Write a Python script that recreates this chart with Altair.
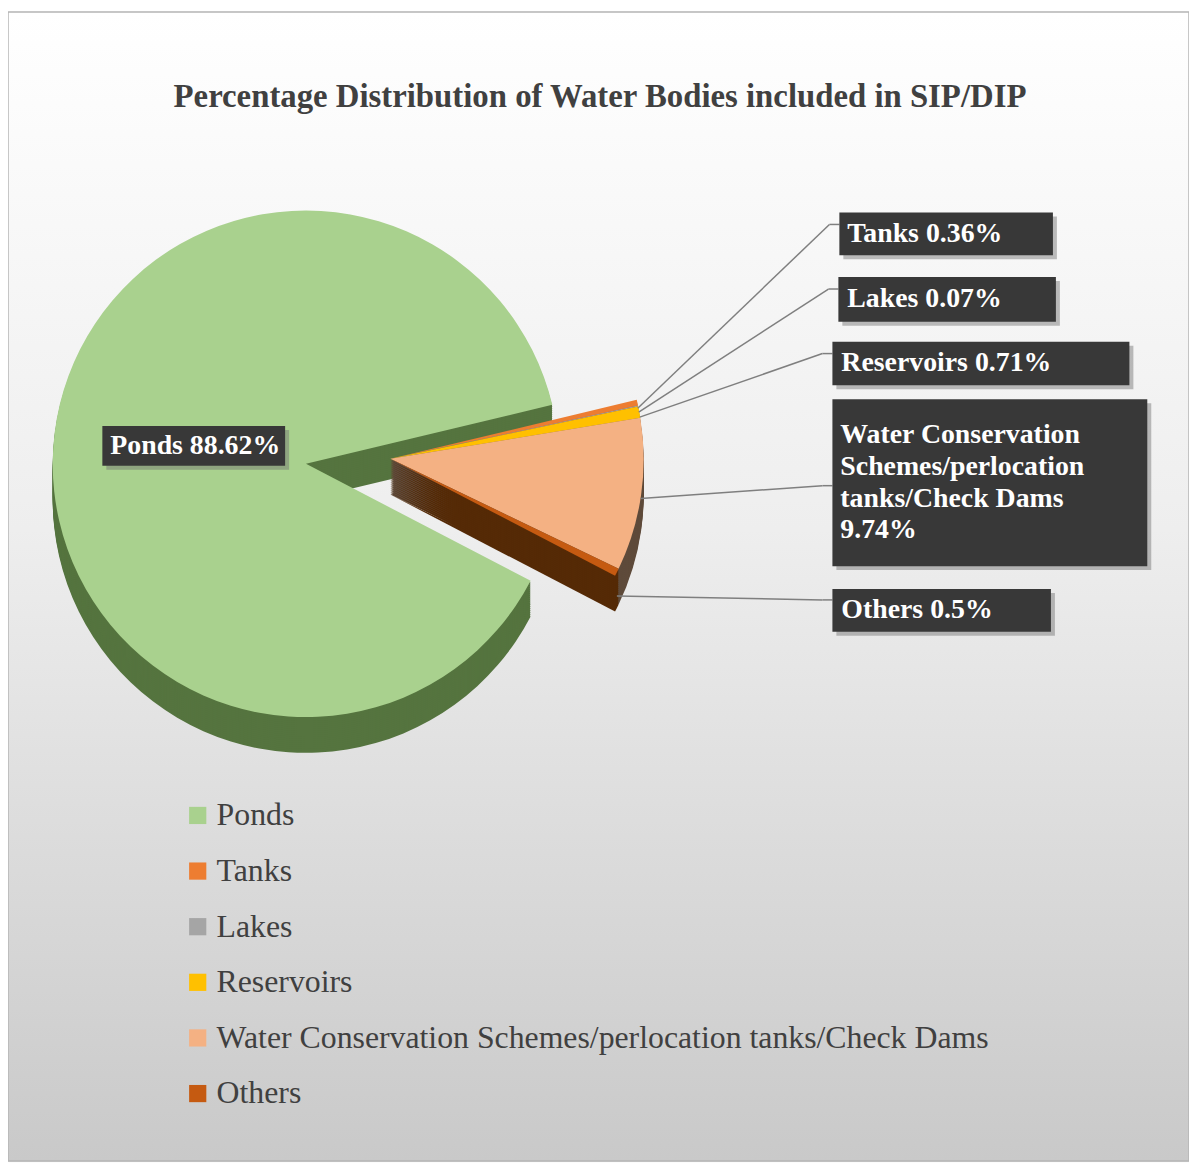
import math
import altair as alt
import pandas as pd

# ---------------- data ----------------
categories = ["Ponds", "Tanks", "Lakes", "Reservoirs",
              "Water Conservation Schemes/perlocation tanks/Check Dams", "Others"]
values = [88.62, 0.36, 0.07, 0.71, 9.74, 0.5]
label_texts = ["Ponds  88.62%", "Tanks  0.36%", "Lakes  0.07%", "Reservoirs 0.71%",
               "Water Conservation\nSchemes/perlocation\ntanks/Check Dams\n9.74%",
               "Others  0.5%"]
title_text = "Percentage Distribution of Water Bodies  included in SIP/DIP"

# ---------------- styles ----------------
top_colors = ["#A9D18E", "#ED7D31", "#A5A5A5", "#FFC000", "#F4B183", "#C55A11"]
side_colors = ["#55743F", "#A8561F", "#6E6E6E", "#A37C00", "#5F4B3B", "#552A06"]
FONT = "Liberation Serif"

W, H = 1189, 1157
CX, CY, R = 300, 455, 255          # pie centre / radius
DX, DY = 85, -5                    # explode offset of the small slices
DEPTH = 36                         # 3-D thickness
START = math.radians(117.5)        # rotation of first slice

# label box layout (chart pixel coords): box x, y, x2, y2, text x, text y
box_layout = [
    (95, 417, 279, 457, 103, 437),
    (837, 202, 1052, 245, 845, 224),
    (836, 267, 1055, 312, 845, 289),
    (830, 332, 1129, 376, 839, 354),
    (830, 390, 1147, 558, 838, 426),
    (830, 581, 1050, 624, 839, 602),
]
# leader line layout: start x, y, elbow x, y
leader_layout = [
    None,
    (634, 399, 827, 214),
    (635, 403, 826, 279),
    (636, 408, 820, 344),
    (637, 490, 820, 477),
    (613, 588, 820, 592),
]

pie_df = pd.DataFrame({
    "idx": list(range(len(categories))),
    "category": categories,
    "value": values,
    "side": side_colors,
})

theta_scale = alt.Scale(domain=[0, 100], range=[START, START + 2 * math.pi])
color_scale = alt.Scale(domain=categories, range=top_colors)


def pie_layer(filter_expr, cx, cy, top=True):
    base = (
        alt.Chart(pie_df)
        .transform_window(cum="sum(value)", sort=[{"field": "idx"}], frame=[None, 0])
        .transform_calculate(start="datum.cum - datum.value")
        .transform_filter(filter_expr)
        .mark_arc(radius=R, stroke=None)
    )
    enc = dict(
        theta=alt.Theta("start:Q", scale=theta_scale),
        theta2=alt.Theta2("cum:Q"),
        x=alt.value(cx),
        y=alt.value(cy),
    )
    if top:
        enc["color"] = alt.Color(
            "category:N", scale=color_scale, sort=categories,
            legend=alt.Legend(
                title=None, orient="none", legendX=175, legendY=793,
                symbolType="square", symbolSize=300, symbolStrokeWidth=0,
                labelFont=FONT, labelFontSize=32, labelColor="#404040",
                labelLimit=1200, rowPadding=24, labelOffset=3,
            ),
        )
    else:
        enc["color"] = alt.Color("side:N", scale=None)
    return base.encode(**enc)


# background with gradient
bg = alt.Chart(pd.DataFrame({"a": [0]})).mark_rect(
    fill=alt.Gradient(
        gradient="linear",
        stops=[alt.GradientStop(color="#ffffff", offset=0),
               alt.GradientStop(color="#eeeeee", offset=0.45),
               alt.GradientStop(color="#c9c9c9", offset=1)],
        x1=0.5, x2=0.5, y1=0, y2=1,
    ),
    stroke="#b5b5b5", strokeWidth=1.5,
).encode(x=alt.value(0), x2=alt.value(W), y=alt.value(0), y2=alt.value(H))

title = alt.Chart(pd.DataFrame({"t": [title_text]})).mark_text(
    font=FONT, fontSize=33, fontWeight="bold", color="#404040", align="center",
    baseline="middle",
).encode(text="t:N", x=alt.value(596), y=alt.value(86))

layers = [bg, title]
# 3-D sides: stacked shifted copies
for d in range(DEPTH, 0, -2):
    layers.append(pie_layer("datum.idx == 0", CX, CY + d, top=False))
    layers.append(pie_layer("datum.idx > 0", CX + DX, CY + DY + d, top=False))
# top faces
layers.append(pie_layer("datum.idx == 0", CX, CY, top=True))
layers.append(pie_layer("datum.idx > 0", CX + DX, CY + DY, top=True))

# labels
lab_rows = []
for i, cat in enumerate(categories):
    bx, by, bx2, by2, tx, ty = box_layout[i]
    row = dict(category=cat, text=label_texts[i], bx=bx, by=by, bx2=bx2, by2=by2,
               tx=tx, ty=ty)
    if leader_layout[i] is not None:
        lx1, ly1, lx2, ly2 = leader_layout[i]
        row.update(lx1=lx1, ly1=ly1, lx2=lx2, ly2=ly2, has_line=1)
    else:
        row.update(lx1=0, ly1=0, lx2=0, ly2=0, has_line=0)
    lab_rows.append(row)
lab_df = pd.DataFrame(lab_rows)
lab = alt.Chart(lab_df)

lines1 = lab.transform_filter("datum.has_line == 1").mark_rule(
    color="#7f7f7f", strokeWidth=1.5).encode(
    x=alt.X("lx1:Q", scale=None), y=alt.Y("ly1:Q", scale=None),
    x2="lx2:Q", y2="ly2:Q")
lines2 = lab.transform_filter("datum.has_line == 1").mark_rule(
    color="#7f7f7f", strokeWidth=1.5).encode(
    x=alt.X("lx2:Q", scale=None), y=alt.Y("ly2:Q", scale=None),
    x2="bx:Q", y2="ly2:Q")
shadow = lab.transform_calculate(
    sx="datum.bx + 4", sy="datum.by + 4", sx2="datum.bx2 + 4", sy2="datum.by2 + 4"
).mark_rect(color="#6e6e6e", opacity=0.45).encode(
    x=alt.X("sx:Q", scale=None), y=alt.Y("sy:Q", scale=None), x2="sx2:Q", y2="sy2:Q")
boxes = lab.mark_rect(color="#383838").encode(
    x=alt.X("bx:Q", scale=None), y=alt.Y("by:Q", scale=None), x2="bx2:Q", y2="by2:Q")
texts = lab.mark_text(
    font=FONT, fontSize=28, fontWeight="bold", color="#ffffff", align="left",
    baseline="middle", lineBreak="\n", lineHeight=32,
).encode(x=alt.X("tx:Q", scale=None), y=alt.Y("ty:Q", scale=None), text="text:N")

layers += [lines1, lines2, shadow, boxes, texts]

chart = alt.layer(*layers).properties(
    width=W, height=H, padding=0,
    autosize=alt.AutoSizeParams(type="none"),
).configure_view(stroke=None).configure(background="#ffffff")

chart.save("out.html", embed_options={"renderer": "svg", "actions": False})
